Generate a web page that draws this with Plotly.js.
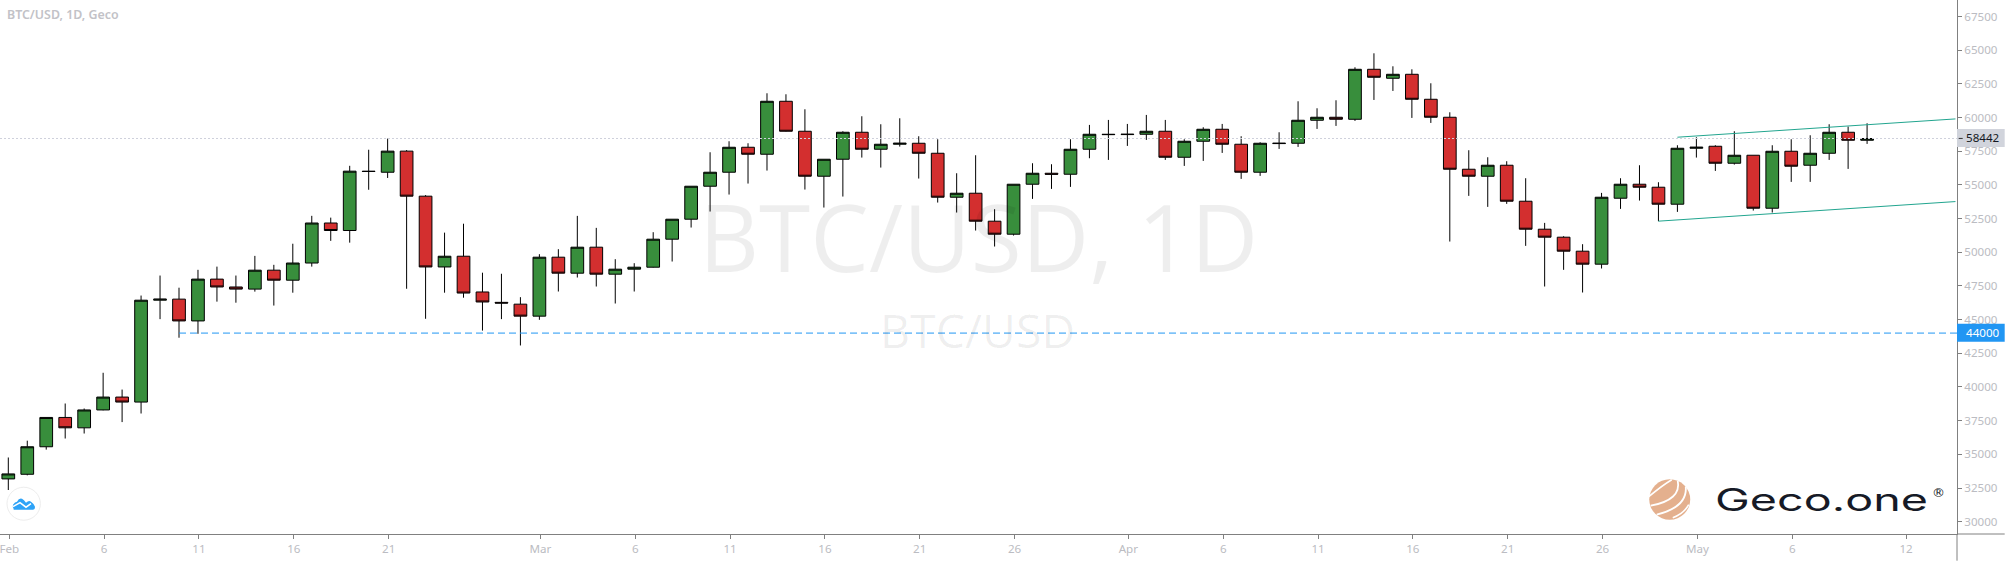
<!DOCTYPE html>
<html>
<head>
<meta charset="utf-8">
<script src="https://cdn.plot.ly/plotly-3.0.1.min.js"></script>
<style>html,body{margin:0;padding:0;background:#fff}#chart{width:2005px;height:561px}</style>
</head>
<body>
<div id="chart"></div>
<script>
const dates = [
'2021-02-01','2021-02-02','2021-02-03','2021-02-04','2021-02-05','2021-02-06','2021-02-07','2021-02-08','2021-02-09','2021-02-10',
'2021-02-11','2021-02-12','2021-02-13','2021-02-14','2021-02-15','2021-02-16','2021-02-17','2021-02-18','2021-02-19','2021-02-20',
'2021-02-21','2021-02-22','2021-02-23','2021-02-24','2021-02-25','2021-02-26','2021-02-27','2021-02-28','2021-03-01','2021-03-02',
'2021-03-03','2021-03-04','2021-03-05','2021-03-06','2021-03-07','2021-03-08','2021-03-09','2021-03-10','2021-03-11','2021-03-12',
'2021-03-13','2021-03-14','2021-03-15','2021-03-16','2021-03-17','2021-03-18','2021-03-19','2021-03-20','2021-03-21','2021-03-22',
'2021-03-23','2021-03-24','2021-03-25','2021-03-26','2021-03-27','2021-03-28','2021-03-29','2021-03-30','2021-03-31','2021-04-01',
'2021-04-02','2021-04-03','2021-04-04','2021-04-05','2021-04-06','2021-04-07','2021-04-08','2021-04-09','2021-04-10','2021-04-11',
'2021-04-12','2021-04-13','2021-04-14','2021-04-15','2021-04-16','2021-04-17','2021-04-18','2021-04-19','2021-04-20','2021-04-21',
'2021-04-22','2021-04-23','2021-04-24','2021-04-25','2021-04-26','2021-04-27','2021-04-28','2021-04-29','2021-04-30','2021-05-01',
'2021-05-02','2021-05-03','2021-05-04','2021-05-05','2021-05-06','2021-05-07','2021-05-08','2021-05-09','2021-05-10'];

const opens = [
33176,33521,35563,37739,36969,38296,39251,38880,46441,46520,
44902,48006,47422,47263,48669,47926,49200,52171,51614,56018,
55938,57504,54161,48908,49704,47051,46281,46147,45257,49633,
48446,50375,48372,48743,48891,50969,52452,54900,55939,57793,
57274,61205,58980,55642,56903,58906,57645,58016,58090,57348,
54084,54381,52304,51339,55048,55864,55790,57645,58757,58733,
58757,58980,57051,58238,59128,58016,55939,58065,58090,59796,
60019,59870,63579,62912,63208,61354,60019,56161,55642,56458,
53787,51710,51117,50078,49114,54010,55048,54826,53565,57719,
57867,56606,57200,53268,57496,56458,57348,58906,58312];

const highs = [
34767,36014,37739,38773,38402,41055,39808,46785,48271,47369,
48696,48934,48271,49730,49067,50632,52702,52569,56416,57610,
58432,57583,54240,51455,52118,48483,48404,46666,49856,50227,
52699,51809,49485,49188,51488,52452,54900,57422,58238,58090,
61799,61725,60612,56903,58980,60093,59499,59944,58609,58387,
55864,57200,53194,55048,56606,56532,58387,59450,59821,59524,
60192,59821,58387,59277,59524,58609,58164,58906,61205,60686,
61280,63728,64766,63802,63579,62541,60389,57571,57051,56755,
55494,52180,51191,50598,54406,55494,56458,55197,57942,58535,
57942,58980,57200,57942,58387,58683,59499,59327,59574];

const lows = [
32353,33441,35351,36174,36545,38269,37394,38031,45035,43655,
43947,46334,46255,47077,46043,46998,48934,50845,50712,54638,
55514,47290,45061,46998,46626,44186,45035,43081,44985,47086,
48125,47457,46196,47086,48867,49312,51834,53021,54282,55098,
56062,58955,54653,53318,54134,57027,56285,57843,55469,53688,
52947,51611,50425,51240,53960,54702,54851,56977,56853,57892,
58337,56853,56408,56779,57373,55444,55667,57670,57818,59153,
59376,59747,61304,61972,59969,59598,50795,54183,53367,53590,
50474,47457,48694,47012,48793,53219,53837,52304,52996,57027,
56038,56507,53095,52947,55222,55222,56853,56186,58040];

const closes = [
33547,35563,37739,36969,38296,39251,38880,46441,46520,44902,
48006,47422,47263,48669,47926,49200,52171,51614,56018,55992,
57504,54161,48908,49704,46971,46308,46228,45257,49633,48446,
50375,48372,48743,48891,50969,52452,54900,55939,57793,57274,
61205,58980,55642,56903,58906,57645,58016,58090,57348,54084,
54381,52304,51339,55048,55864,55790,57645,58757,58733,58757,
58980,57051,58238,59128,58016,55939,58090,58090,59796,60019,
59870,63579,62986,63208,61354,60019,56161,55642,56458,53787,
51710,51117,50078,49114,54084,55048,54826,53565,57719,57793,
56606,57200,53268,57496,56384,57348,58906,58312,58442];

const yTicks = [30000,32500,35000,37500,40000,42500,45000,47500,50000,52500,55000,57500,60000,62500,65000,67500];
const xTickDates = ['2021-02-01','2021-02-06','2021-02-11','2021-02-16','2021-02-21','2021-03-01','2021-03-06','2021-03-11','2021-03-16','2021-03-21','2021-03-26','2021-04-01','2021-04-06','2021-04-11','2021-04-16','2021-04-21','2021-04-26','2021-05-01','2021-05-06','2021-05-12'];
const xTickLabels = ['Feb','6','11','16','21','Mar','6','11','16','21','26','Apr','6','11','16','21','26','May','6','12'];

const lastPrice = 58442;
const supportLevel = 44000;
const supportStart = '2021-02-10';
const upperChannelDates = ['2021-04-30','2021-05-14 15:50'];
const upperChannelPrices = [58538,59896];
const lowerChannelDates = ['2021-04-29','2021-05-14 15:50'];
const lowerChannelPrices = [52307,53761];

const W = 2005, H = 561, PLOT_W = 1957.3, PLOT_H = 534.3;
const px = x => x / PLOT_W;
const py = y => (PLOT_H - y) / PLOT_H;
const tickFont = {family:'"Noto Sans", sans-serif', size:11.6, color:'#bbbcc2'};
const axisGray = '#808080';

function note(text, x, y, font, xanchor) {
  return {text, xref:'paper', yref:'paper', x:px(x), y:py(y), showarrow:false,
          xanchor:xanchor||'left', yanchor:'middle', font, borderpad:0, borderwidth:0};
}
function path(cmds) {
  return cmds.map(c => c[0] + ' ' + c.slice(1).reduce((a,v,i)=>a.concat(i%2===0?px(v):py(v)),[]).join(' ')).join(' ');
}

const shapes = [
  {type:'line', xref:'paper', yref:'y', x0:0, x1:1, y0:lastPrice, y1:lastPrice, layer:'above', line:{color:'#cfd1dc', width:1, dash:'2px,2px'}},
  {type:'line', xref:'x', yref:'y', x0:supportStart, x1:'2021-05-14 17:46', y0:supportLevel, y1:supportLevel, layer:'above', line:{color:'#2196f3', width:1, dash:'7px,4px'}},
  {type:'line', xref:'x', yref:'y', x0:upperChannelDates[0], x1:upperChannelDates[1], y0:upperChannelPrices[0], y1:upperChannelPrices[1], layer:'above', line:{color:'#22a58f', width:1}},
  {type:'line', xref:'x', yref:'y', x0:lowerChannelDates[0], x1:lowerChannelDates[1], y0:lowerChannelPrices[0], y1:lowerChannelPrices[1], layer:'above', line:{color:'#22a58f', width:1}},
  {type:'line', xref:'paper', yref:'paper', x0:1, x1:1, y0:0, y1:py(H), layer:'above', line:{color:axisGray, width:1}},
  {type:'line', xref:'paper', yref:'paper', x0:1, x1:px(W), y0:0, y1:0, layer:'above', line:{color:axisGray, width:1}},
  {type:'rect', xref:'paper', yref:'paper', x0:1, x1:px(W), y0:py(129), y1:py(147), layer:'above', fillcolor:'#d1d4dc', line:{width:0}},
  {type:'rect', xref:'paper', yref:'paper', x0:1, x1:px(W), y0:py(324), y1:py(342), layer:'above', fillcolor:'#2196f3', line:{width:0}},
  {type:'line', xref:'paper', yref:'paper', x0:px(1959), x1:px(1963), y0:py(138.5), y1:py(138.5), layer:'above', line:{color:'#333', width:1}},
  {type:'circle', xref:'paper', yref:'paper', x0:px(7), x1:px(40.4), y0:py(487.5), y1:py(520.5), layer:'above', fillcolor:'#fff', line:{color:'#ededed', width:1}},
  {type:'path', xref:'paper', yref:'paper', layer:'above', fillcolor:'#2ea3f7', line:{width:0},
    path: path([['M',14,510],['Q',12,508,13,505],['Q',15,502,17,502],['Q',19,498,22,499],['Q',24,500,26,503],['Q',29,500,31,502],['Q',34,504,35,507],['Q',35,510,33,510],['Z']])},
  {type:'path', xref:'paper', yref:'paper', layer:'above', line:{color:'#fff', width:1.5},
    path: path([['M',13,507],['L',20,503],['L',26,507.5],['L',31,504]])},
  {type:'circle', xref:'paper', yref:'paper', x0:px(1649.5), x1:px(1690.5), y0:py(479.5), y1:py(520), layer:'above', fillcolor:'#e4b08e', line:{width:0}},
  {type:'path', xref:'paper', yref:'paper', layer:'above', line:{color:'#fff', width:1.6},
    path: path([['M',1649,497],['Q',1662,486,1672,480]])},
  {type:'path', xref:'paper', yref:'paper', layer:'above', line:{color:'#fff', width:1.8},
    path: path([['M',1651,506],['Q',1682,500,1678,481]])},
  {type:'path', xref:'paper', yref:'paper', layer:'above', line:{color:'#fff', width:1.8},
    path: path([['M',1657,515],['Q',1688,507,1686,487]])},
  {type:'path', xref:'paper', yref:'paper', layer:'above', line:{color:'#fff', width:1.6},
    path: path([['M',1673,518],['Q',1684,514,1689,505]])}
];

const annotations = [
  note('BTC/USD, 1D', 978.5, 236, {family:'"Open Sans", sans-serif', size:93, color:'rgba(0,0,0,0.065)'}, 'center'),
  note('BTC/USD', 977.5, 330, {family:'"Open Sans", sans-serif', size:46.5, color:'rgba(0,0,0,0.065)'}, 'center'),
  note('BTC/USD, 1D, Geco', 7, 15, {family:'"Noto Sans", sans-serif', size:12.4, weight:600, color:'#c2c2c7'}),
  note('58442', 1966, 138, {family:'"Noto Sans", sans-serif', size:11.6, color:'#131722'}),
  note('44000', 1966, 333, {family:'"Noto Sans", sans-serif', size:11.6, color:'#ffffff'}),
  note('Geco.one', 1715, 500, {family:'Inter, sans-serif', size:31, weight:400, color:'#161a26'}),
  note('®', 1932, 493, {family:'"DejaVu Sans", sans-serif', size:13, color:'#161a26'})
];

const trace = {
  type:'candlestick', x:dates, open:opens, high:highs, low:lows, close:closes,
  increasing:{line:{color:'#000000', width:1}, fillcolor:'#388e3c'},
  decreasing:{line:{color:'#000000', width:1}, fillcolor:'#d32f2f'},
  whiskerwidth:0, hoverinfo:'skip', showlegend:false
};

const layout = {
  width:W, height:H, margin:{l:0, r:W-PLOT_W, t:0, b:H-PLOT_H, pad:0},
  paper_bgcolor:'#ffffff', plot_bgcolor:'#ffffff', showlegend:false,
  boxgap:0.33, boxgroupgap:0,
  xaxis:{type:'date', range:['2021-01-31 13:30','2021-05-14 17:46'], rangeslider:{visible:false},
    tickmode:'array', tickvals:xTickDates.map(d=>d+' 01:15'), ticktext:xTickLabels, ticklabeloverflow:'allow',
    showgrid:false, zeroline:false, showline:true, linecolor:axisGray, linewidth:1,
    ticks:'outside', ticklen:4, tickcolor:axisGray, tickwidth:1, tickfont:tickFont},
  yaxis:{type:'linear', side:'right', range:[29088,68722], tickmode:'array', tickvals:yTicks, ticktext:yTicks.map(String),
    showgrid:false, zeroline:false, showline:true, linecolor:axisGray, linewidth:1, ticklabeloverflow:'allow',
    ticks:'outside', ticklen:4, tickcolor:axisGray, tickwidth:1, tickfont:tickFont},
  shapes, annotations
};

Plotly.newPlot('chart', [trace], layout, {displayModeBar:false, staticPlot:true}).then(gd => {
  gd.querySelectorAll('.annotation-text').forEach(t => {
    if (t.textContent === 'Geco.one') {
      const box = t.getBBox(), rect = t.getBoundingClientRect();
      const s = 213 / rect.width, dx = 1715 - rect.left;
      t.setAttribute('transform', 'translate(' + (box.x + dx) + ',0) scale(' + s + ',1) translate(' + (-box.x) + ',0)');
    }
  });
});
</script>
</body>
</html>
